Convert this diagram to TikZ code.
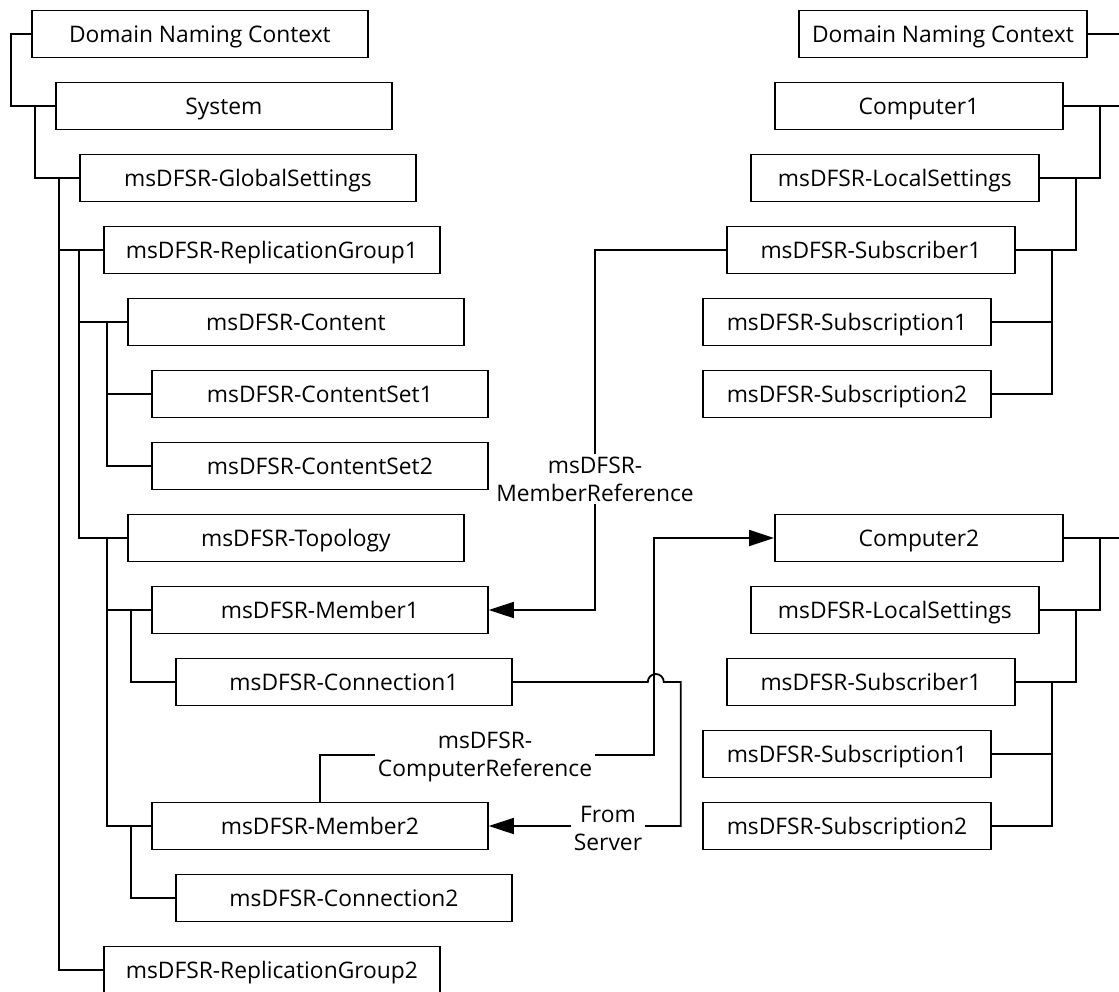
\documentclass[tikz,border=0pt]{standalone}
\usepackage{fontspec}
\setmainfont{Open Sans}
\usetikzlibrary{arrows.meta}
\begin{document}
\begin{tikzpicture}[x=1pt,y=1pt,
  line width=1.8pt,
  lbox/.style={draw, line width=1.8pt, minimum width=336pt, minimum height=47pt, inner sep=0pt,
    anchor=west, font=\fontsize{22.8}{28}\selectfont, text height=16.2pt, text depth=0pt},
  rbox/.style={lbox, minimum width=288pt},
  lbl/.style={fill=white, align=center, inner sep=3pt, font=\fontsize{22.8}{28}\selectfont},
  arr/.style={-{Triangle[length=25pt,width=16pt]}}
]
\useasboundingbox (0,0) rectangle (1119,-992);
% left tree
\node[lbox] (dnc) at (31,-34) {Domain Naming Context};
\node[lbox] (sys) at (55,-106) {System};
\node[lbox] (gs) at (79,-178) {msDFSR-GlobalSettings};
\node[lbox] (rg1) at (103,-250) {msDFSR-ReplicationGroup1};
\node[lbox] (cont) at (127,-322) {msDFSR-Content};
\node[lbox] (cs1) at (151,-394) {msDFSR-ContentSet1};
\node[lbox] (cs2) at (151,-466) {msDFSR-ContentSet2};
\node[lbox] (topo) at (127,-538) {msDFSR-Topology};
\node[lbox] (m1) at (151,-610) {msDFSR-Member1};
\node[lbox] (con1) at (175,-682) {msDFSR-Connection1};
\node[lbox] (m2) at (151,-826) {msDFSR-Member2};
\node[lbox] (con2) at (175,-898) {msDFSR-Connection2};
\node[lbox] (rg2) at (103,-970) {msDFSR-ReplicationGroup2};
% right trees
\node[rbox] (rdnc) at (798,-34) {Domain Naming Context};
\node[rbox] (c1) at (774,-106) {Computer1};
\node[rbox] (ls1) at (750,-178) {msDFSR-LocalSettings};
\node[rbox] (sb1) at (726,-250) {msDFSR-Subscriber1};
\node[rbox] (sp11) at (702,-322) {msDFSR-Subscription1};
\node[rbox] (sp12) at (702,-394) {msDFSR-Subscription2};
\node[rbox] (c2) at (774,-538) {Computer2};
\node[rbox] (ls2) at (750,-610) {msDFSR-LocalSettings};
\node[rbox] (sb2) at (726,-682) {msDFSR-Subscriber1};
\node[rbox] (sp21) at (702,-754) {msDFSR-Subscription1};
\node[rbox] (sp22) at (702,-826) {msDFSR-Subscription2};
% free ends at the right edge
\coordinate (e0) at (1119,-34);
\coordinate (e1) at (1119,-106);
\coordinate (e2) at (1119,-538);
% left tree connectors
\draw (dnc.west) -- ++(-20,0) |- (sys.west);
\draw ([xshift=-20pt]sys.west) |- (gs.west);
\draw ([xshift=-20pt]gs.west) |- (rg1.west);
\draw ([xshift=-20pt]gs.west) |- (rg2.west);
\draw ([xshift=-24pt]rg1.west) |- (cont.west);
\draw ([xshift=-24pt]rg1.west) |- (topo.west);
\draw ([xshift=-20pt]cont.west) |- (cs1.west);
\draw ([xshift=-20pt]cont.west) |- (cs2.west);
\draw ([xshift=-20pt]topo.west) |- (m1.west);
\draw ([xshift=-20pt]topo.west) |- (m2.west);
\draw ([xshift=-20pt]m1.west) |- (con1.west);
\draw ([xshift=-20pt]m2.west) |- (con2.west);
% right tree connectors
\draw (rdnc.east) -- (e0);
\draw (c1.east) -- (e1);
\draw ([xshift=36pt]c1.east) |- (ls1.east);
\draw ([xshift=36pt]ls1.east) |- (sb1.east);
\draw ([xshift=36pt]sb1.east) |- (sp11.east);
\draw ([xshift=36pt]sb1.east) |- (sp12.east);
\draw (c2.east) -- (e2);
\draw ([xshift=36pt]c2.east) |- (ls2.east);
\draw ([xshift=36pt]ls2.east) |- (sb2.east);
\draw ([xshift=36pt]sb2.east) |- (sp21.east);
\draw ([xshift=36pt]sb2.east) |- (sp22.east);
% cross references
\draw[arr] (sb1.west) -- ++(-131,0) |- (m1.east);
\node[lbl] (mref) at (595,-479) {msDFSR-\\MemberReference};
\draw[arr] (m2.north) -- ++(0,47) -| ([xshift=-120pt]c2.west) -- (c2.west);
\node[lbl] (cref) at (485,-757) {msDFSR-\\ComputerReference};
\draw[arr] (con1.east) -- ++(135,0) arc[start angle=180, end angle=0, radius=8] -- ++(17,0) |- (m2.east);
\node[lbl] (fs) at (608,-828) {From\\Server};
\end{tikzpicture}
\end{document}
